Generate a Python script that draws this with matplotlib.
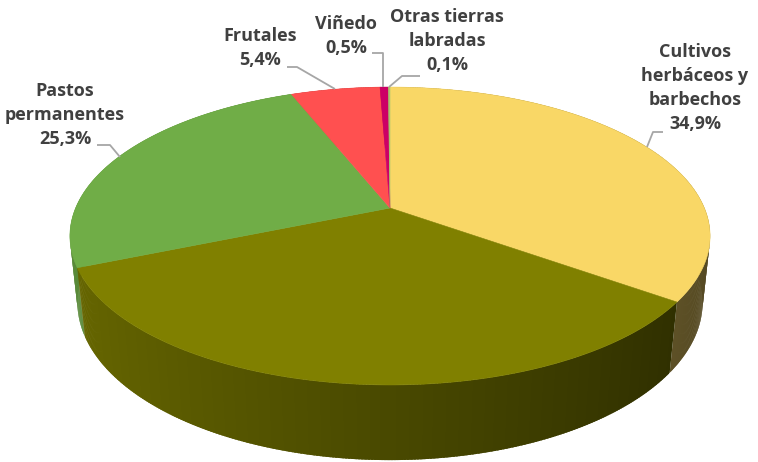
import numpy as np
import matplotlib
matplotlib.use("Agg")
from matplotlib import pyplot as plt
from matplotlib.colors import to_rgb

# slice data, clockwise from 12 o'clock
categories = ['Cultivos\nherbáceos y\nbarbechos', '', 'Pastos\npermanentes',
              'Frutales', 'Viñedo', 'Otras tierras\nlabradas']
values = [34.9, 33.8, 25.3, 5.4, 0.5, 0.1]
pct_labels = ['34,9%', None, '25,3%', '5,4%', '0,5%', '0,1%']
colors = ['#F9D766', '#808000', '#70AD47', '#FF5050', '#CC0066', '#A9C76A']

# label block centres and leader lines (pixels)
label_pos = [(695, 88), None, (65, 115), (260, 48), (346, 36), (447, 41)]
leaders = [
    [(663, 132), (653, 132), (647, 147)],
    None,
    [(97, 145), (110, 145), (120, 157)],
    [(287, 67), (297, 67), (335, 89)],
    [(372, 53), (383, 53), (383, 87)],
    [(420, 76), (402, 76), (389, 87)],
]

# 3d view (perspective tilt)
alpha = np.radians(27.2)
s, c = np.sin(alpha), np.cos(alpha)
D = 4.73
F = 1487.0
cx, cy = 390, 208
h = 0.239


def proj(X, Y, Z):
    w = D + Y * c - Z * s
    v = Y * s + Z * c
    return cx + F * X / w, cy - F * v / w


fig = plt.figure(figsize=(7.58, 4.62), dpi=100)
ax = fig.add_axes([0, 0, 1, 1])
ax.set_xlim(0, 758)
ax.set_ylim(462, 0)
ax.axis('off')

total = sum(values)
bounds = np.concatenate([[0], np.cumsum(values)]) / total * 360.0

# sides, back to front (quads overlap a little so no seams show)
quads = []
for i, col in enumerate(colors):
    a0, a1 = bounds[i], bounds[i + 1]
    n = max(2, int((a1 - a0) / 0.5) + 1)
    ang = np.radians(np.linspace(a0, a1, n))
    base = np.array(to_rgb(col))
    step = ang[1] - ang[0]
    for p, q in zip(ang[:-1], ang[1:]):
        m = (p + q) / 2
        depth = D + np.cos(m) * c
        shade = 0.57 - 0.24 * np.sin(m)
        p0, q0 = p - 0.4 * step, q + 0.4 * step
        p0, q0 = max(p0, ang[0]), min(q0, ang[-1])
        pts = [proj(np.sin(p0), np.cos(p0), 0), proj(np.sin(q0), np.cos(q0), 0),
               proj(np.sin(q0), np.cos(q0), -h), proj(np.sin(p0), np.cos(p0), -h)]
        quads.append((depth, pts, np.clip(base * shade, 0, 1)))
quads.sort(key=lambda t: -t[0])
for depth, pts, fc in quads:
    xs, ys = zip(*pts)
    ax.fill(xs, ys, color=fc, lw=0, zorder=1)

# top face
for i, col in enumerate(colors):
    a0, a1 = bounds[i], bounds[i + 1]
    n = max(2, int((a1 - a0) / 0.5) + 1)
    ang = np.radians(np.linspace(a0, a1, n))
    px, py = proj(np.sin(ang), np.cos(ang), 0)
    xs = np.concatenate([[cx], px])
    ys = np.concatenate([[cy], py])
    ax.fill(xs, ys, color=col, lw=0.4, ec=col, zorder=2)

# labels
for i in range(len(values)):
    if label_pos[i] is None:
        continue
    ax.plot(*zip(*leaders[i]), color='#A6A6A6', lw=1.3, zorder=3,
            solid_capstyle='butt')
    txt = categories[i] + '\n' + pct_labels[i]
    ax.text(label_pos[i][0], label_pos[i][1], txt, ha='center', va='center',
            multialignment='center', fontsize=13, fontweight='bold',
            family='Open Sans', color='#404040', linespacing=1.42, zorder=4)

plt.savefig('out.png', dpi=100)
